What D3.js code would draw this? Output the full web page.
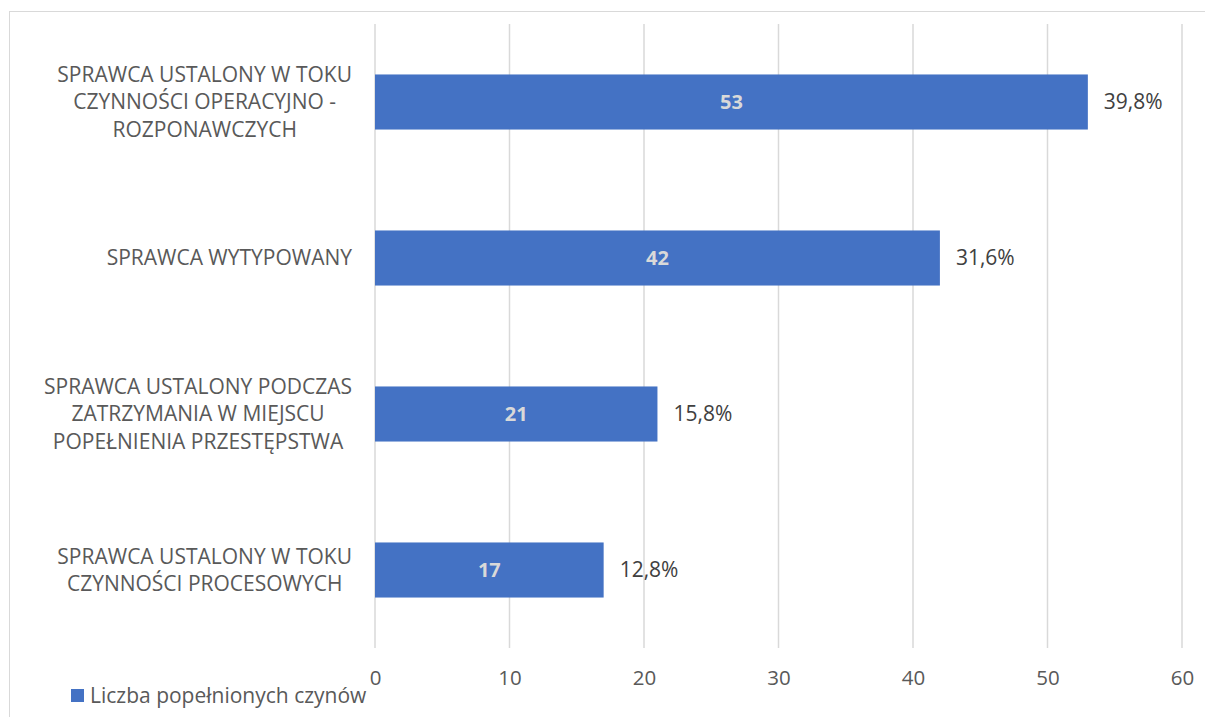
<!DOCTYPE html>
<html>
<head>
<meta charset="utf-8">
<script src="https://cdn.jsdelivr.net/npm/d3@7"></script>
<style>
  body { margin: 0; background: #fff; }
  text { font-family: "Open Sans", sans-serif; }
</style>
</head>
<body>
<div id="chart"></div>
<script>
var width = 1205;
var height = 717;

// data
var categories = [
	["SPRAWCA USTALONY W TOKU", "CZYNNOŚCI OPERACYJNO -", "ROZPONAWCZYCH"],
	["SPRAWCA WYTYPOWANY"],
	["SPRAWCA USTALONY PODCZAS", "ZATRZYMANIA W MIEJSCU", "POPEŁNIENIA PRZESTĘPSTWA"],
	["SPRAWCA USTALONY W TOKU", "CZYNNOŚCI PROCESOWYCH"]
];
var counts = [53, 42, 21, 17];
var percents = ["39,8%", "31,6%", "15,8%", "12,8%"];
var xTicks = [0, 10, 20, 30, 40, 50, 60];
var seriesName = "Liczba popełnionych czynów";

var margins = { left: 375, right: 23, top: 24, bottom: 69 };
var chartWidth = width - margins.left - margins.right;
var chartHeight = height - margins.top - margins.bottom;

var svg = d3
	.select("#chart")
	.append("svg")
	.attr("width", width)
	.attr("height", height);

// outer frame
svg.append("rect")
	.attr("x", 9.5)
	.attr("y", 11.5)
	.attr("width", width)
	.attr("height", height)
	.attr("fill", "none")
	.attr("stroke", "#D9D9D9")
	.attr("stroke-width", 1);

var chartGroup = svg
	.append("g")
	.attr("transform", `translate(${margins.left},${margins.top})`);

var xscale = d3.scaleLinear().domain([0, 60]).range([0, chartWidth]);
var yscale = d3
	.scaleBand()
	.domain(d3.range(counts.length))
	.range([0, chartHeight])
	.paddingInner(0.647)
	.paddingOuter(0.3235);

// gridlines
chartGroup
	.selectAll("line.grid")
	.data(xTicks)
	.enter()
	.append("line")
	.attr("class", "grid")
	.attr("x1", (d) => xscale(d))
	.attr("x2", (d) => xscale(d))
	.attr("y1", 0)
	.attr("y2", chartHeight)
	.attr("stroke", "#D9D9D9")
	.attr("stroke-width", 1.5);

// x axis labels
var xaxis_ = d3.axisBottom(xscale).tickValues(xTicks).tickSize(0).tickPadding(22);
var xaxis = chartGroup
	.append("g")
	.attr("transform", `translate(0,${chartHeight})`)
	.call(xaxis_);
xaxis.select(".domain").remove();
xaxis.selectAll("text")
	.attr("font-family", "'Open Sans', sans-serif")
	.attr("font-size", "20.5px")
	.attr("fill", "#595959");

// bars
chartGroup
	.selectAll("rect.bar")
	.data(counts)
	.enter()
	.append("rect")
	.attr("class", "bar")
	.attr("x", 0)
	.attr("y", (d, i) => yscale(i))
	.attr("width", (d) => xscale(d))
	.attr("height", yscale.bandwidth())
	.attr("fill", "#4472C4");

// value labels inside
chartGroup
	.selectAll("text.val")
	.data(counts)
	.enter()
	.append("text")
	.attr("class", "val")
	.text((d) => d)
	.attr("x", (d) => xscale(d) / 2)
	.attr("y", (d, i) => yscale(i) + yscale.bandwidth() / 2)
	.attr("dy", "0.35em")
	.attr("text-anchor", "middle")
	.attr("font-size", "20px")
	.attr("font-weight", "bold")
	.attr("fill", "#D9D9D9");

// percent labels outside
chartGroup
	.selectAll("text.pct")
	.data(percents)
	.enter()
	.append("text")
	.attr("class", "pct")
	.text((d) => d)
	.attr("x", (d, i) => xscale(counts[i]) + 16)
	.attr("y", (d, i) => yscale(i) + yscale.bandwidth() / 2)
	.attr("dy", "0.35em")
	.attr("font-size", "21px")
	.attr("fill", "#404040");

// category labels: each block right-aligned to the axis, lines centered within it
var lineH = 27.5;
var labelRight = 352;
var catGroup = svg.append("g");
categories.forEach(function (lines, i) {
	var cy = margins.top + yscale(i) + yscale.bandwidth() / 2;
	var t = catGroup
		.append("text")
		.attr("y", cy - ((lines.length - 1) * lineH) / 2)
		.attr("text-anchor", "middle")
		.attr("font-size", "21px")
		.attr("fill", "#595959");
	var spans = lines.map(function (line, j) {
		return t.append("tspan")
			.attr("dy", j === 0 ? "0.35em" : lineH)
			.text(line);
	});
	var maxW = d3.max(spans, (s) => s.node().getComputedTextLength());
	var cx = labelRight - maxW / 2;
	t.attr("x", cx);
	spans.forEach((s) => s.attr("x", cx));
});

// legend
var legend = svg.append("g").attr("transform", "translate(71,689)");
legend.append("rect")
	.attr("width", 13)
	.attr("height", 13)
	.attr("fill", "#4472C4");
legend.append("text")
	.attr("x", 19)
	.attr("y", 6.5)
	.attr("dy", "0.35em")
	.attr("font-size", "21px")
	.attr("fill", "#595959")
	.text(seriesName);
</script>
</body>
</html>
